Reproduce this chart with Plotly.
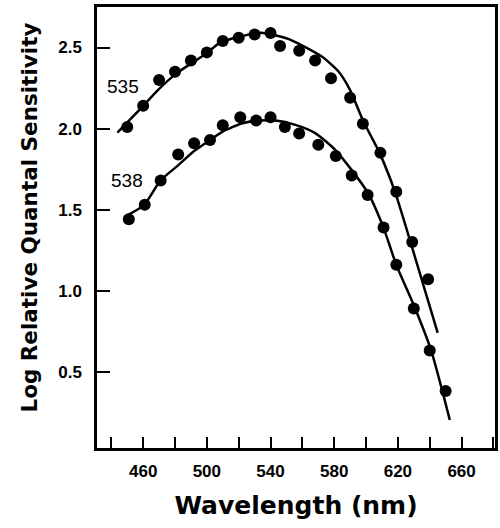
import plotly.graph_objects as go

# Data points, 535 nm template curve (upper)
wl_535 = [450, 460, 470, 480, 490, 500, 510, 520, 530, 540, 546, 558, 568, 578, 590, 598, 609, 619, 629, 639]
val_535 = [2.01, 2.14, 2.30, 2.35, 2.42, 2.47, 2.54, 2.56, 2.58, 2.59, 2.51, 2.48, 2.42, 2.31, 2.19, 2.03, 1.85, 1.61, 1.30, 1.07]

# Data points, 538 nm template curve (lower)
wl_538 = [451, 461, 471, 482, 492, 502, 510, 521, 531, 540, 549, 558, 570, 581, 591, 601, 611, 619, 630, 640, 650]
val_538 = [1.44, 1.53, 1.68, 1.84, 1.91, 1.93, 2.02, 2.07, 2.05, 2.07, 2.01, 1.97, 1.90, 1.83, 1.71, 1.59, 1.39, 1.16, 0.89, 0.63, 0.38]

# Fitted curves
curve_535_wl = [443.8, 459.6, 469.4, 481.2, 499.9, 507.8, 520.3, 534, 551.5, 572.2, 582.7, 589.9, 598.2, 608.2, 618.2, 629.4, 645]
curve_535_v = [1.975, 2.136, 2.239, 2.342, 2.465, 2.527, 2.566, 2.591, 2.552, 2.444, 2.352, 2.239, 2.047, 1.856, 1.609, 1.251, 0.740]

curve_538_wl = [448.0, 460.6, 470.8, 482.3, 491.6, 501.6, 509.9, 522.3, 532.8, 543.2, 555.6, 568.1, 580.6, 590.9, 601.3, 611.0, 619.0, 630.4, 640.8, 652.6]
curve_538_v = [1.453, 1.529, 1.679, 1.776, 1.858, 1.926, 1.981, 2.033, 2.049, 2.049, 2.023, 1.972, 1.869, 1.745, 1.601, 1.387, 1.159, 0.901, 0.634, 0.202]

curve_labels = ["535", "538"]
label_wl = [447.5, 449.7]
label_v = [2.259, 1.679]

x_tickvals = [460, 500, 540, 580, 620, 660]
y_tickvals = [0.5, 1.0, 1.5, 2.0, 2.5]
y_ticktext = ["0.5", "1.0", "1.5", "2.0", "2.5"]

fig = go.Figure()
for cw, cv in [(curve_535_wl, curve_535_v), (curve_538_wl, curve_538_v)]:
    fig.add_trace(go.Scatter(x=cw, y=cv, mode="lines",
                             line=dict(color="black", width=2.5, shape="spline", smoothing=0.6),
                             hoverinfo="skip", showlegend=False))
for pw, pv in [(wl_535, val_535), (wl_538, val_538)]:
    fig.add_trace(go.Scatter(x=pw, y=pv, mode="markers",
                             marker=dict(color="black", size=12, line=dict(width=0)),
                             showlegend=False))

for t, lx, ly in zip(curve_labels, label_wl, label_v):
    fig.add_annotation(x=lx, y=ly, text=t, showarrow=False,
                       font=dict(family="Liberation Sans", size=19, color="black"))

# Y-axis title placed as a rotated annotation
fig.add_annotation(xref="paper", yref="paper", x=-0.172, y=0.5215,
                   text="Log Relative Quantal Sensitivity", textangle=-90,
                   showarrow=False, xanchor="center", yanchor="middle",
                   font=dict(family="DejaVu Sans", size=21.5, color="black", weight="bold"))

fig.update_xaxes(range=[431, 681], tickvals=x_tickvals, ticks="inside", ticklen=11,
                 tickwidth=1.5, tickcolor="black", showline=True, linewidth=2.5,
                 linecolor="black", mirror=True, showgrid=False, zeroline=False,
                 ticklabelstandoff=6,
                 minor=dict(dtick=20, tick0=440, ticks="inside", ticklen=11,
                            tickwidth=1.5, tickcolor="black", showgrid=False),
                 tickfont=dict(family="Liberation Sans", size=17, color="black", weight="bold"),
                 title=dict(text="Wavelength (nm)", standoff=17,
                            font=dict(family="DejaVu Sans", size=25, color="black", weight="bold")))
fig.update_yaxes(range=[0.029, 2.75], tickvals=y_tickvals, ticktext=y_ticktext,
                 ticks="inside", ticklen=13, tickwidth=1.5, tickcolor="black",
                 showline=True, linewidth=2.5, linecolor="black", mirror=True,
                 showgrid=False, zeroline=False, ticklabelstandoff=9,
                 tickfont=dict(family="Liberation Sans", size=17, color="black", weight="bold"))

fig.update_layout(width=500, height=528, margin=dict(l=97, r=2, t=7, b=80),
                  plot_bgcolor="white", paper_bgcolor="white")
fig.write_html("out.html")
